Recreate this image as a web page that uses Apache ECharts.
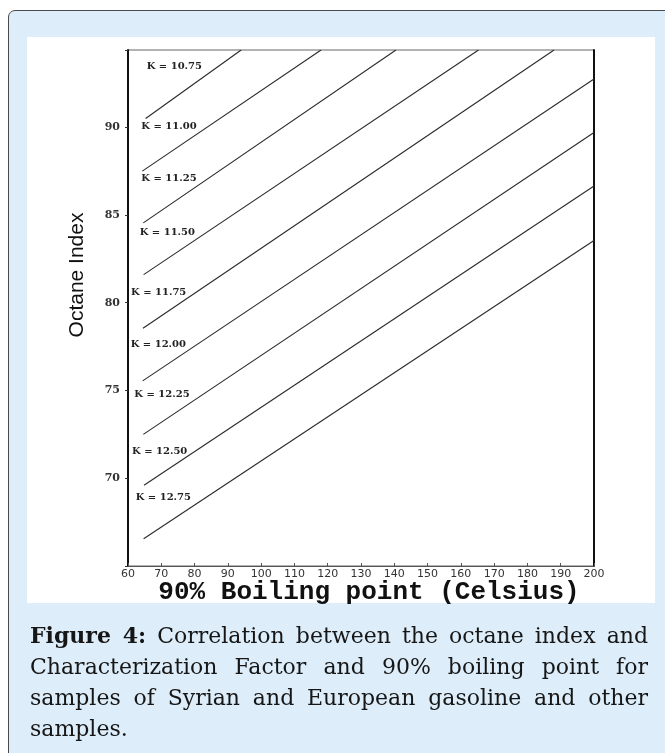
<!DOCTYPE html>
<html>
<head>
<meta charset="utf-8">
<script src="https://cdn.jsdelivr.net/npm/echarts@6/dist/echarts.min.js"></script>
<style>
html,body{margin:0;padding:0;width:665px;height:753px;overflow:hidden;background:#fff;}
#outer{position:absolute;left:8px;top:10px;width:690px;height:780px;border:1.5px solid #4a4a4a;border-radius:7px;background:#ddeefa;box-sizing:border-box;}
#panel{position:absolute;left:27px;top:37px;width:628px;height:566px;background:#fff;}
#chart{position:absolute;left:0;top:0;width:665px;height:753px;}
#caption{position:absolute;left:30px;top:620px;width:618px;font-family:'DejaVu Serif',serif;font-size:22px;color:#161616;}
.ln{height:31px;line-height:31px;text-align:justify;text-align-last:justify;}
.last{text-align:left;text-align-last:left;}
</style>
</head>
<body>
<div id="outer"></div>
<div id="panel"></div>
<div id="chart"></div>
<div id="caption">
<div class="ln"><b>Figure 4:</b> Correlation between the octane index and</div>
<div class="ln">Characterization Factor and 90% boiling point for</div>
<div class="ln">samples of Syrian and European gasoline and other</div>
<div class="ln last">samples.</div>
</div>
<script>
// ---- data ----
const kLabels = ['K = 10.75','K = 11.00','K = 11.25','K = 11.50','K = 11.75','K = 12.00','K = 12.25','K = 12.50','K = 12.75'];
const startBoiling = [65.3, 64.3, 64.6, 64.7, 64.5, 64.4, 64.6, 64.8, 64.7];
const startOctane  = [90.5, 87.5, 84.55, 81.6, 78.55, 75.55, 72.5, 69.6, 66.55];
const endBoiling   = [94.0, 118.0, 140.5, 165.3, 188.0, 200, 200, 200, 200];
const endOctane    = [94.4, 94.4, 94.4, 94.4, 94.4, 92.75, 89.7, 86.65, 83.55];
const xTickLabels  = [60, 70, 80, 90, 100, 110, 120, 130, 140, 150, 160, 170, 180, 190, 200];
const yTickLabels  = [70, 75, 80, 85, 90];

// ---- layout (label placement relative to each line's start) ----
const labelOffsets = [[1,-52],[-1,-45],[-2,-44],[-4,-42],[-12,-36],[-12,-36],[-9,-40],[-12,-34],[-8,-41]];

const chart = echarts.init(document.getElementById('chart'), null, {renderer:'canvas'});
const series = kLabels.map((k, i) => ({
  type: 'line',
  xAxisIndex: 0,
  yAxisIndex: 0,
  silent: true,
  animation: false,
  symbol: 'circle',
  symbolSize: 1,
  showSymbol: true,
  itemStyle: {color: 'rgba(0,0,0,0)', borderWidth: 0},
  lineStyle: {color: '#2a2a2a', width: 1.1},
  emphasis: {disabled: true},
  data: [
    {value: [startBoiling[i], startOctane[i]],
     label: {show: true, formatter: k, position: 'inside', align: 'left', verticalAlign: 'middle',
             offset: labelOffsets[i], fontFamily: 'DejaVu Serif', fontWeight: 'bold', fontSize: 10, color: '#222'}},
    {value: [endBoiling[i], endOctane[i]]}
  ]
}));

chart.setOption({
  animation: false,
  backgroundColor: 'transparent',
  grid: {left: 128, right: 71, top: 50, bottom: 187, show: true, borderColor: '#666', borderWidth: 1},
  xAxis: {
    type: 'value', min: 60, max: 200, interval: 10,
    name: '90% Boiling point (Celsius)', nameLocation: 'middle', nameGap: 13, nameMoveOverlap: false,
    nameTextStyle: {fontFamily: 'Liberation Mono', fontWeight: 'bold', fontSize: 26, color: '#111', padding: [0,0,0,16]},
    axisLine: {show: true, onZero: false, lineStyle: {color: '#555', width: 1}},
    axisTick: {show: true, inside: true, length: 3, lineStyle: {color: '#555'}},
    axisLabel: {margin: 3, fontFamily: 'DejaVu Sans', fontSize: 11, color: '#333',
                formatter: v => xTickLabels.includes(v) ? String(v) : ''},
    splitLine: {show: false}
  },
  yAxis: [{
    type: 'value', min: 65, max: 94.4, interval: 5, position: 'left',
    name: 'Octane Index', nameLocation: 'middle', nameRotate: 90, nameGap: 40, nameMoveOverlap: false,
    nameTextStyle: {fontFamily: 'Liberation Sans', fontSize: 21, color: '#111', padding: [0,0,0,66]},
    axisLine: {show: true, onZero: false, lineStyle: {color: '#111', width: 2}},
    axisTick: {show: true, length: 3, lineStyle: {color: '#333'}},
    axisLabel: {margin: 8, fontFamily: 'DejaVu Serif', fontWeight: 'bold', fontSize: 11, color: '#333',
                formatter: v => yTickLabels.includes(v) ? String(v) : ''},
    splitLine: {show: false}
  }, {
    type: 'value', min: 65, max: 94.4, position: 'right',
    axisLine: {show: true, onZero: false, lineStyle: {color: '#111', width: 2}},
    axisTick: {show: false}, axisLabel: {show: false}, splitLine: {show: false}
  }],
  series: series
});
</script>
</body>
</html>
